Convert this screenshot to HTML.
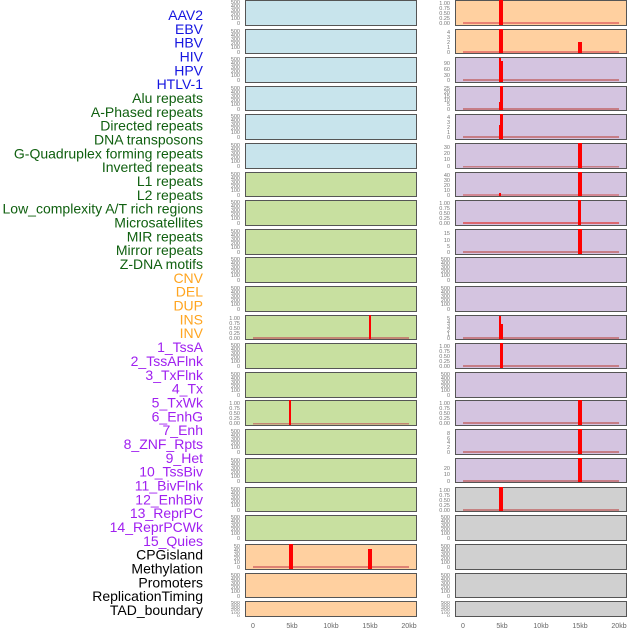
<!DOCTYPE html>
<html><head><meta charset="utf-8"><style>
html,body{margin:0;padding:0;background:#fff;width:630px;height:630px;overflow:hidden}
svg{display:block;font-family:"Liberation Sans",sans-serif}
.l{font-size:14px;text-anchor:end}
.t{font-size:5.5px;fill:#777;text-anchor:end}
.x{font-size:7px;fill:#666;text-anchor:middle}
.p{stroke:#555;stroke-width:1}
</style></head><body>
<svg width="630" height="630" viewBox="0 0 630 630">
<defs>
<g id="A" class="t"><text y="4">500</text><text y="8">400</text><text y="12">300</text><text y="16">200</text><text y="20">100</text><text y="25">0</text></g>
<g id="B" class="t"><text y="5">1.00</text><text y="10">0.75</text><text y="15">0.50</text><text y="20">0.25</text><text y="25">0.00</text></g>
<g id="C4" class="t"><text y="5">4</text><text y="10">3</text><text y="15">2</text><text y="20">1</text><text y="25">0</text></g>
<g id="C5" class="t"><text y="5">5</text><text y="9">4</text><text y="13">3</text><text y="17">2</text><text y="21">1</text><text y="25">0</text></g>
<g id="C90" class="t"><text y="8">90</text><text y="14">60</text><text y="20">30</text><text y="25">0</text></g>
<g id="C25" class="t"><text y="4">25</text><text y="8">20</text><text y="12">15</text><text y="16">10</text><text y="20">5</text><text y="25">0</text></g>
<g id="C30" class="t"><text y="6">30</text><text y="12">20</text><text y="18">10</text><text y="25">0</text></g>
<g id="C40" class="t"><text y="5">40</text><text y="10">30</text><text y="15">20</text><text y="20">10</text><text y="25">0</text></g>
<g id="C15" class="t"><text y="6">15</text><text y="13">10</text><text y="19">5</text><text y="25">0</text></g>
<g id="C8" class="t"><text y="6">8</text><text y="11">6</text><text y="15">4</text><text y="20">2</text><text y="25">0</text></g>
<g id="C20" class="t"><text y="12">20</text><text y="18">10</text><text y="25">0</text></g>
<g id="C50" class="t"><text y="4">50</text><text y="8">40</text><text y="12">30</text><text y="16">20</text><text y="20">10</text><text y="25">0</text></g>
</defs>

<g class="l">
<text x="203" y="20" fill="#1515e0">AAV2</text>
<text x="203" y="33.8" fill="#1515e0">EBV</text>
<text x="203" y="47.7" fill="#1515e0">HBV</text>
<text x="203" y="61.5" fill="#1515e0">HIV</text>
<text x="203" y="75.3" fill="#1515e0">HPV</text>
<text x="203" y="89.2" fill="#1515e0">HTLV-1</text>
<text x="203" y="103" fill="#106010">Alu repeats</text>
<text x="203" y="116.9" fill="#106010">A-Phased repeats</text>
<text x="203" y="130.7" fill="#106010">Directed repeats</text>
<text x="203" y="144.5" fill="#106010">DNA transposons</text>
<text x="203" y="158.4" fill="#106010">G-Quadruplex forming repeats</text>
<text x="203" y="172.2" fill="#106010">Inverted repeats</text>
<text x="203" y="186" fill="#106010">L1 repeats</text>
<text x="203" y="199.9" fill="#106010">L2 repeats</text>
<text x="203" y="213.7" fill="#106010">Low_complexity A/T rich regions</text>
<text x="203" y="227.6" fill="#106010">Microsatellites</text>
<text x="203" y="241.4" fill="#106010">MIR repeats</text>
<text x="203" y="255.2" fill="#106010">Mirror repeats</text>
<text x="203" y="269.1" fill="#106010">Z-DNA motifs</text>
<text x="203" y="282.9" fill="#ffa520">CNV</text>
<text x="203" y="296.7" fill="#ffa520">DEL</text>
<text x="203" y="310.6" fill="#ffa520">DUP</text>
<text x="203" y="324.4" fill="#ffa520">INS</text>
<text x="203" y="338.2" fill="#ffa520">INV</text>
<text x="203" y="352.1" fill="#a020f0">1_TssA</text>
<text x="203" y="365.9" fill="#a020f0">2_TssAFlnk</text>
<text x="203" y="379.8" fill="#a020f0">3_TxFlnk</text>
<text x="203" y="393.6" fill="#a020f0">4_Tx</text>
<text x="203" y="407.4" fill="#a020f0">5_TxWk</text>
<text x="203" y="421.3" fill="#a020f0">6_EnhG</text>
<text x="203" y="435.1" fill="#a020f0">7_Enh</text>
<text x="203" y="448.9" fill="#a020f0">8_ZNF_Rpts</text>
<text x="203" y="462.8" fill="#a020f0">9_Het</text>
<text x="203" y="476.6" fill="#a020f0">10_TssBiv</text>
<text x="203" y="490.5" fill="#a020f0">11_BivFlnk</text>
<text x="203" y="504.3" fill="#a020f0">12_EnhBiv</text>
<text x="203" y="518.1" fill="#a020f0">13_ReprPC</text>
<text x="203" y="532" fill="#a020f0">14_ReprPCWk</text>
<text x="203" y="545.8" fill="#a020f0">15_Quies</text>
<text x="203" y="559.6" fill="#000">CPGisland</text>
<text x="203" y="573.5" fill="#000">Methylation</text>
<text x="203" y="587.3" fill="#000">Promoters</text>
<text x="203" y="601.1" fill="#000">ReplicationTiming</text>
<text x="203" y="615" fill="#000">TAD_boundary</text>
</g>

<g>
<g transform="translate(0,0)"><use href="#A" x="240" y="0"/><use href="#B" x="450" y="0"/>
<rect class="p" x="245.5" y="0.5" width="171" height="25" fill="#c8e4ec"/>
<rect class="p" x="455.5" y="0.5" width="171" height="25" fill="#ffd0a0"/>
<rect x="463" y="22" width="156" height="2" fill="#e06060" opacity=".7"/><rect x="499" y="0" width="4" height="25" fill="#ff0000"/></g>
<g transform="translate(0,29)"><use href="#A" x="240"/><use href="#C4" x="450"/>
<rect class="p" x="245.5" y="0.5" width="171" height="24" fill="#c8e4ec"/>
<rect class="p" x="455.5" y="0.5" width="171" height="24" fill="#ffd0a0"/>
<rect x="463" y="22" width="156" height="2" fill="#e06060" opacity=".7"/><rect x="499" y="0" width="4" height="24" fill="#f00"/><rect x="578" y="13" width="4" height="11" fill="#f00"/></g>
<g transform="translate(0,57)"><use href="#A" x="240"/><use href="#C90" x="450"/>
<rect class="p" x="245.5" y="0.5" width="171" height="25" fill="#c8e4ec"/>
<rect class="p" x="455.5" y="0.5" width="171" height="25" fill="#d4c4e0"/>
<rect x="463" y="22" width="156" height="2" fill="#c06060" opacity=".7"/><rect x="499" y="1" width="2" height="24" fill="#f00"/><rect x="501" y="4" width="2" height="21" fill="#f00"/></g>
<g transform="translate(0,86)"><use href="#A" x="240"/><use href="#C25" x="450"/>
<rect class="p" x="245.5" y="0.5" width="171" height="24" fill="#c8e4ec"/>
<rect class="p" x="455.5" y="0.5" width="171" height="24" fill="#d4c4e0"/>
<rect x="463" y="22" width="156" height="2" fill="#c06060" opacity=".7"/><rect x="500" y="0" width="3" height="24" fill="#f00"/><rect x="499" y="16" width="2" height="8" fill="#f00"/></g>
<g transform="translate(0,114)"><use href="#A" x="240"/><use href="#C4" x="450"/>
<rect class="p" x="245.5" y="0.5" width="171" height="25" fill="#c8e4ec"/>
<rect class="p" x="455.5" y="0.5" width="171" height="25" fill="#d4c4e0"/>
<rect x="463" y="22" width="156" height="2" fill="#c06060" opacity=".7"/><rect x="500" y="0" width="3" height="25" fill="#f00"/><rect x="499" y="11" width="2" height="14" fill="#f00"/></g>
<g transform="translate(0,143)"><use href="#A" x="240"/><use href="#C30" x="450"/>
<rect class="p" x="245.5" y="0.5" width="171" height="25" fill="#c8e4ec"/>
<rect class="p" x="455.5" y="0.5" width="171" height="25" fill="#d4c4e0"/>
<rect x="463" y="23" width="156" height="1.5" fill="#c06060" opacity=".7"/><rect x="578" y="0" width="4" height="25" fill="#f00"/></g>
<g transform="translate(0,172)"><use href="#A" x="240"/><use href="#C40" x="450"/>
<rect class="p" x="245.5" y="0.5" width="171" height="24" fill="#c8e0a0"/>
<rect class="p" x="455.5" y="0.5" width="171" height="24" fill="#d4c4e0"/>
<rect x="463" y="22" width="156" height="2" fill="#d06060" opacity=".6"/><rect x="578" y="0" width="4" height="24" fill="#f00"/><rect x="499" y="21" width="2" height="3" fill="#f00"/></g>
<g transform="translate(0,200)"><use href="#A" x="240"/><use href="#B" x="450"/>
<rect class="p" x="245.5" y="0.5" width="171" height="25" fill="#c8e0a0"/>
<rect class="p" x="455.5" y="0.5" width="171" height="25" fill="#d4c4e0"/>
<rect x="463" y="22" width="156" height="2" fill="#e04040" opacity=".7"/><rect x="578" y="0" width="3" height="25" fill="#f00"/></g>
<g transform="translate(0,229)"><use href="#A" x="240"/><use href="#C15" x="450"/>
<rect class="p" x="245.5" y="0.5" width="171" height="25" fill="#c8e0a0"/>
<rect class="p" x="455.5" y="0.5" width="171" height="25" fill="#d4c4e0"/>
<rect x="463" y="22" width="156" height="2" fill="#c06060" opacity=".7"/><rect x="578" y="0" width="4" height="25" fill="#f00"/></g>
<g transform="translate(0,257)"><use href="#A" x="240"/><use href="#A" x="450"/>
<rect class="p" x="245.5" y="0.5" width="171" height="25" fill="#c8e0a0"/>
<rect class="p" x="455.5" y="0.5" width="171" height="25" fill="#d4c4e0"/></g>
<g transform="translate(0,286)"><use href="#A" x="240"/><use href="#A" x="450"/>
<rect class="p" x="245.5" y="0.5" width="171" height="25" fill="#c8e0a0"/>
<rect class="p" x="455.5" y="0.5" width="171" height="25" fill="#d4c4e0"/></g>
<g transform="translate(0,315)"><use href="#B" x="240"/><use href="#C5" x="450"/>
<rect class="p" x="245.5" y="0.5" width="171" height="24" fill="#c8e0a0"/>
<rect class="p" x="455.5" y="0.5" width="171" height="24" fill="#d4c4e0"/>
<rect x="253" y="22" width="156" height="2" fill="#c06060" opacity=".7"/><rect x="369" y="0" width="2" height="24" fill="#f00"/>
<rect x="463" y="22" width="156" height="2" fill="#c06060" opacity=".7"/><rect x="499" y="1" width="2" height="23" fill="#f00"/><rect x="501" y="9" width="2" height="15" fill="#f00"/></g>
<g transform="translate(0,343)"><use href="#A" x="240"/><use href="#B" x="450"/>
<rect class="p" x="245.5" y="0.5" width="171" height="25" fill="#c8e0a0"/>
<rect class="p" x="455.5" y="0.5" width="171" height="25" fill="#d4c4e0"/>
<rect x="463" y="22" width="156" height="2" fill="#c06060" opacity=".7"/><rect x="500" y="0" width="3" height="25" fill="#f00"/></g>
<g transform="translate(0,372)"><use href="#A" x="240"/><use href="#A" x="450"/>
<rect class="p" x="245.5" y="0.5" width="171" height="25" fill="#c8e0a0"/>
<rect class="p" x="455.5" y="0.5" width="171" height="25" fill="#d4c4e0"/></g>
<g transform="translate(0,400)"><use href="#B" x="240"/><use href="#B" x="450"/>
<rect class="p" x="245.5" y="0.5" width="171" height="25" fill="#c8e0a0"/>
<rect class="p" x="455.5" y="0.5" width="171" height="25" fill="#d4c4e0"/>
<rect x="253" y="23" width="156" height="1.5" fill="#c06060" opacity=".7"/><rect x="289" y="0" width="2" height="25" fill="#f00"/>
<rect x="463" y="22" width="156" height="2" fill="#c06060" opacity=".7"/><rect x="578" y="0" width="4" height="25" fill="#f00"/></g>
<g transform="translate(0,429)"><use href="#A" x="240"/><use href="#C8" x="450"/>
<rect class="p" x="245.5" y="0.5" width="171" height="25" fill="#c8e0a0"/>
<rect class="p" x="455.5" y="0.5" width="171" height="25" fill="#d4c4e0"/>
<rect x="463" y="22" width="156" height="2" fill="#c06060" opacity=".7"/><rect x="578" y="0" width="4" height="25" fill="#f00"/></g>
<g transform="translate(0,458)"><use href="#A" x="240"/><use href="#C20" x="450"/>
<rect class="p" x="245.5" y="0.5" width="171" height="24" fill="#c8e0a0"/>
<rect class="p" x="455.5" y="0.5" width="171" height="24" fill="#d4c4e0"/>
<rect x="463" y="22" width="156" height="2" fill="#c06060" opacity=".7"/><rect x="578" y="0" width="4" height="24" fill="#f00"/></g>
<g transform="translate(0,487)"><use href="#A" x="240"/><use href="#B" x="450"/>
<rect class="p" x="245.5" y="0.5" width="171" height="24" fill="#c8e0a0"/>
<rect class="p" x="455.5" y="0.5" width="171" height="24" fill="#d0d0d0"/>
<rect x="463" y="22" width="156" height="2" fill="#c06060" opacity=".7"/><rect x="499" y="0" width="4" height="24" fill="#f00"/></g>
<g transform="translate(0,515)"><use href="#A" x="240"/><use href="#A" x="450"/>
<rect class="p" x="245.5" y="0.5" width="171" height="25" fill="#c8e0a0"/>
<rect class="p" x="455.5" y="0.5" width="171" height="25" fill="#d0d0d0"/></g>
<g transform="translate(0,544)"><use href="#C50" x="240"/><use href="#A" x="450"/>
<rect class="p" x="245.5" y="0.5" width="171" height="25" fill="#ffd0a0"/>
<rect class="p" x="455.5" y="0.5" width="171" height="25" fill="#d0d0d0"/>
<rect x="253" y="22" width="156" height="2" fill="#d06060" opacity=".7"/><rect x="289" y="0" width="4" height="25" fill="#f00"/><rect x="368" y="5" width="4" height="20" fill="#f00"/></g>
<g transform="translate(0,573)"><use href="#A" x="240"/><use href="#A" x="450"/>
<rect class="p" x="245.5" y="0.5" width="171" height="24" fill="#ffd0a0"/>
<rect class="p" x="455.5" y="0.5" width="171" height="24" fill="#d0d0d0"/></g>
<g transform="translate(0,601) scale(1,0.64)"><use href="#A" x="240"/><use href="#A" x="450"/></g>
<rect class="p" x="245.5" y="601.5" width="171" height="15" fill="#ffd0a0"/>
<rect class="p" x="455.5" y="601.5" width="171" height="15" fill="#d0d0d0"/>
</g>

<g class="x">
<text x="253" y="628">0</text><text x="292" y="628">5kb</text><text x="331" y="628">10kb</text><text x="370" y="628">15kb</text><text x="409" y="628">20kb</text>
<text x="463" y="628">0</text><text x="502" y="628">5kb</text><text x="541" y="628">10kb</text><text x="580" y="628">15kb</text><text x="619" y="628">20kb</text>
</g>
</svg>
</body></html>
